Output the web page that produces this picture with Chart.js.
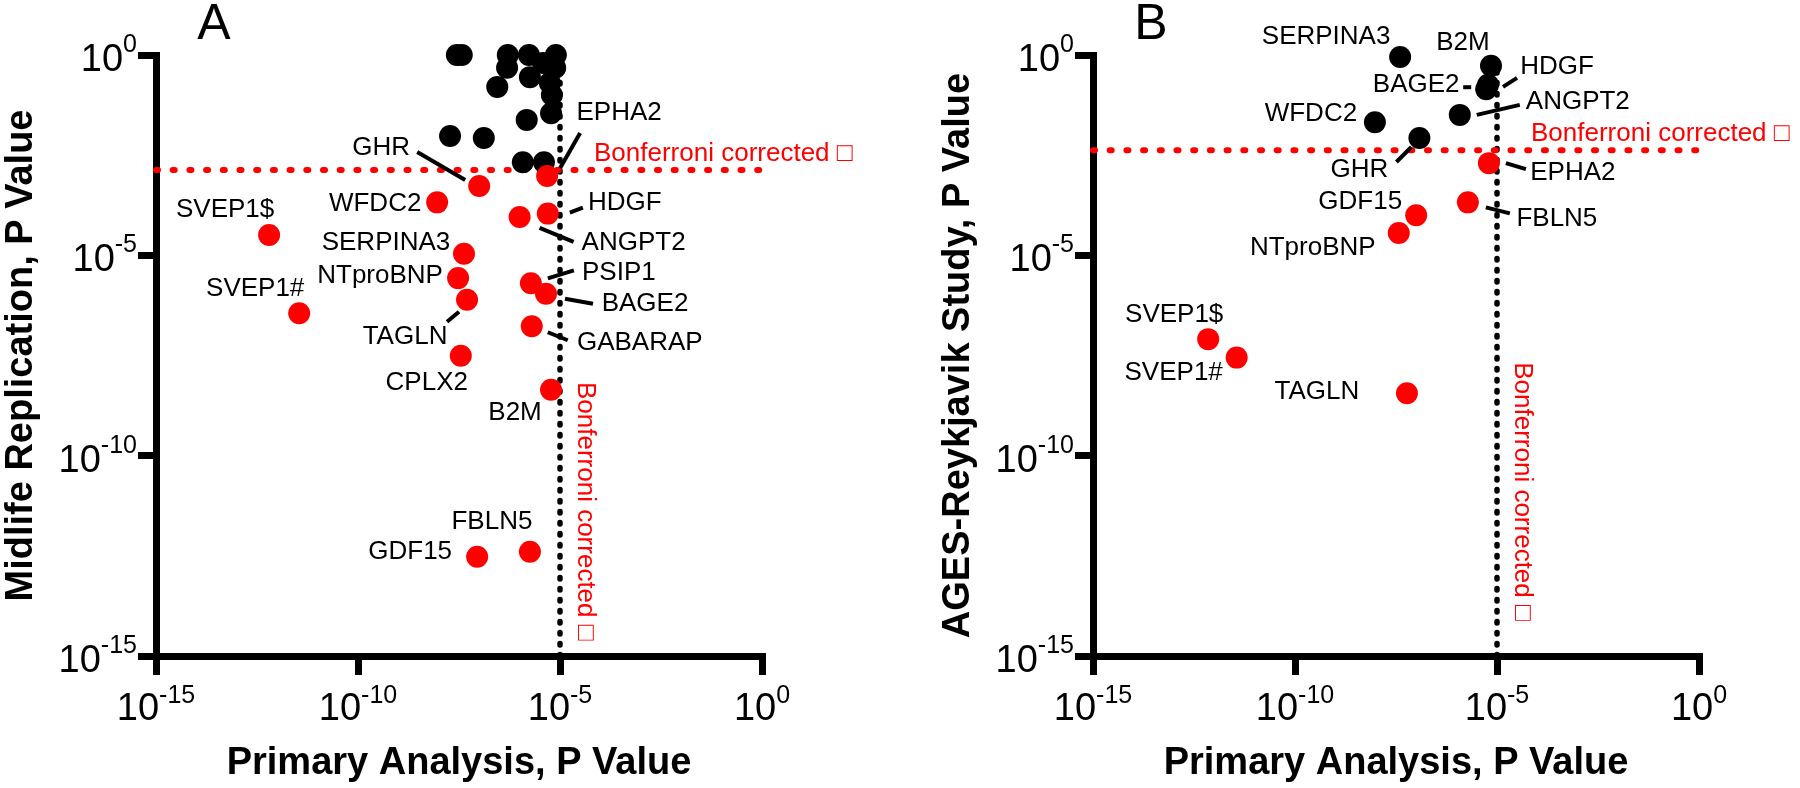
<!DOCTYPE html>
<html lang="en">
<head>
  <meta charset="UTF-8" />
  <title>Primary analysis vs replication P values</title>
  <script src="https://cdn.jsdelivr.net/npm/chart.js"></script>
  <style>
    * { box-sizing: border-box; }
    body {
      margin: 0;
      background: #ffffff;
      width: 1800px;
      height: 788px;
      position: relative;
      overflow: hidden;
    }
    .panel { position: absolute; top: 0; width: 900px; height: 788px; }
    #panelA { left: 0; }
    #panelB { left: 900px; }
  </style>
</head>
<body>
  <div class="panel" id="panelA"><canvas id="chartA" width="900" height="788"></canvas></div>
  <div class="panel" id="panelB"><canvas id="chartB" width="900" height="788"></canvas></div>

  <script>
    // ---------- data: P values ----------
    // Panel A, labelled proteins
    const genesA = ['EPHA2', 'GHR', 'WFDC2', 'HDGF', 'ANGPT2', 'SVEP1$', 'SVEP1#', 'SERPINA3', 'NTproBNP',
                    'TAGLN', 'CPLX2', 'PSIP1', 'BAGE2', 'GABARAP', 'B2M', 'GDF15', 'FBLN5'];
    const primaryA = [4.8e-6, 1.0e-7, 9.1e-9, 5.0e-6, 1.0e-6, 6.3e-13, 3.5e-12, 4.2e-8, 3.0e-8,
                      5.0e-8, 3.5e-8, 1.9e-6, 4.5e-6, 2.0e-6, 6.0e-6, 8.9e-8, 1.8e-6];
    const midlifeA = [9.5e-4, 5.4e-4, 2.1e-4, 1.1e-4, 9.1e-5, 3.2e-5, 3.6e-7, 1.1e-5, 2.7e-6,
                      7.8e-7, 3.1e-8, 2.0e-6, 1.1e-6, 1.7e-7, 4.4e-9, 3.0e-13, 4.0e-13];
    // Panel A, not replicated (unlabelled)
    const primaryAns = [2.8e-8, 3.7e-8, 5.1e-7, 1.7e-6, 7.9e-6, 4.9e-7, 1.8e-6, 2.8e-7, 7.6e-6,
                        3.8e-6, 6.3e-6, 6.0e-6, 1.5e-6, 1.9e-8, 1.3e-7, 1.2e-6, 4.0e-6, 5.6e-6];
    const midlifeAns = [1.0, 1.0, 1.0, 1.0, 1.0, 0.48, 0.28, 0.16, 0.48,
                        0.63, 0.10, 0.035, 0.024, 0.0095, 0.0085, 0.0021, 0.0021, 0.2];

    // Panel B
    const genesB = ['SERPINA3', 'B2M', 'HDGF', 'BAGE2', 'ANGPT2', 'WFDC2', 'GHR', 'EPHA2',
                    'FBLN5', 'GDF15', 'NTproBNP', 'SVEP1$', 'SVEP1#', 'TAGLN'];
    const primaryB = [4.0e-8, 7.1e-6, 6.0e-6, 5.4e-6, 1.2e-6, 9.5e-9, 1.2e-7, 6.3e-6,
                      1.9e-6, 1.0e-7, 3.7e-8, 7.1e-13, 3.6e-12, 5.9e-8];
    const agesB = [0.89, 0.54, 0.18, 0.14, 0.032, 0.021, 0.0085, 0.0020,
                   2.1e-4, 1.0e-4, 3.6e-5, 8.1e-8, 2.8e-8, 3.6e-9];

    const tickExps = [-15, -10, -5, 0];
    const bonfPrimary = 1e-5;     // vertical threshold
    const bonfA = 1.35e-3;        // horizontal threshold, panel A
    const bonfB = 4.2e-3;         // horizontal threshold, panel B

    // ---------- label placement (pixel offsets from the point) ----------
    const labelsA = {
      'EPHA2':    { dx: 72,  dy: -63, lead: [33, -43, 13, -8] },
      'GHR':      { dx: -98, dy: -38, lead: [-62, -34, -14, -6] },
      'WFDC2':    { dx: -62, dy: 1 },
      'HDGF':     { dx: 77,  dy: -11, lead: [22, -1, 35, -6] },
      'ANGPT2':   { dx: 114, dy: 26,  lead: [20, 11, 54, 25] },
      'SVEP1$':   { dx: -44, dy: -25 },
      'SVEP1#':   { dx: -44, dy: -24 },
      'SERPINA3': { dx: -78, dy: -11 },
      'NTproBNP': { dx: -78, dy: -2 },
      'TAGLN':    { dx: -62, dy: 37,  lead: [-20, 22, -8, 12] },
      'CPLX2':    { dx: -34, dy: 27 },
      'PSIP1':    { dx: 88,  dy: -11, lead: [17, -5, 43, -13] },
      'BAGE2':    { dx: 99,  dy: 10,  lead: [19, 5, 47, 10] },
      'GABARAP':  { dx: 108, dy: 17,  lead: [16, 6, 36, 14] },
      'B2M':      { dx: -36, dy: 23 },
      'GDF15':    { dx: -67, dy: -5 },
      'FBLN5':    { dx: -38, dy: -30 }
    };
    const labelsB = {
      'SERPINA3': { dx: -74, dy: -20 },
      'B2M':      { dx: -28, dy: -23 },
      'HDGF':     { dx: 69,  dy: -18, lead: [15, 2, 29, -7] },
      'BAGE2':    { dx: -70, dy: -4,  lead: [-23, -2, -15, -2] },
      'ANGPT2':   { dx: 118, dy: -13, lead: [17, 0, 60, -10] },
      'WFDC2':    { dx: -64, dy: -8 },
      'GHR':      { dx: -60, dy: 32,  lead: [-23, 24, -8, 9] },
      'EPHA2':    { dx: 84,  dy: 10,  lead: [17, 0, 37, 6] },
      'GDF15':    { dx: -56, dy: -13 },
      'FBLN5':    { dx: 89,  dy: 16,  lead: [18, 5, 42, 11] },
      'NTproBNP': { dx: -86, dy: 15 },
      'SVEP1$':   { dx: -34, dy: -24 },
      'SVEP1#':   { dx: -63, dy: 15 },
      'TAGLN':    { dx: -90, dy: -1 }
    };

    const FONT = '"Liberation Sans", Arial, Helvetica, sans-serif';
    const RED = '#ff0000';

    // split points into red (replicated) and black by the horizontal threshold
    function splitPoints(names, xs, ys, thr) {
      const red = [], black = [];
      xs.forEach((v, i) => {
        const pt = { x: v, y: ys[i], name: names ? names[i] : '' };
        (ys[i] < thr ? red : black).push(pt);
      });
      return { red, black };
    }

    function logAxis(isX, size) {
      return {
        type: 'logarithmic',
        min: 1e-15,
        max: 1,
        afterBuildTicks: s => { s.ticks = tickExps.map(e => ({ value: Math.pow(10, e) })); },
        afterFit: s => { if (isX) s.height = size; else s.width = size; },
        ticks: { display: false },
        grid: { drawOnChartArea: false, drawTicks: true, tickLength: isX ? 19 : 18, lineWidth: 7, color: '#000' },
        border: { display: true, width: 7, color: '#000' }
      };
    }

    function drawPower(ctx, exp, xPos, baseY, supY, centred) {
      const base = '38px ' + FONT, sup = '25px ' + FONT;
      ctx.font = base;
      const w10 = ctx.measureText('10').width;
      ctx.font = sup;
      const txt = String(exp);
      const wE = ctx.measureText(txt).width;
      const left = centred ? xPos - (w10 + wE) / 2 : xPos - (w10 + wE);
      ctx.textAlign = 'left';
      ctx.textBaseline = 'alphabetic';
      ctx.font = base;
      ctx.fillText('10', left, baseY);
      ctx.font = sup;
      ctx.fillText(txt, left + w10, supY);
    }

    // axis labels, titles, thresholds text and gene labels
    const annotate = {
      id: 'annotate',
      afterDraw(chart, args, opts) {
        const { ctx, chartArea } = chart;
        const xs = chart.scales.x, ys = chart.scales.y;
        ctx.save();
        ctx.fillStyle = '#000';

        // tick labels
        tickExps.forEach(e => {
          const v = Math.pow(10, e);
          drawPower(ctx, e, xs.getPixelForValue(v), chartArea.bottom + 64, chartArea.bottom + 47, true);
          const py = ys.getPixelForValue(v);
          drawPower(ctx, e, chartArea.left - 19, py + 16, py - 3, false);
        });

        // axis titles
        ctx.font = 'bold 38px ' + FONT;
        ctx.textAlign = 'center';
        ctx.textBaseline = 'alphabetic';
        ctx.fillText('Primary Analysis, P Value', (chartArea.left + chartArea.right) / 2, chartArea.bottom + 118);
        ctx.save();
        ctx.translate(chartArea.left - 134, (chartArea.top + chartArea.bottom) / 2);
        ctx.rotate(-Math.PI / 2);
        ctx.textBaseline = 'middle';
        ctx.fillText(opts.yTitle, 0, 0);
        ctx.restore();

        // panel letter
        ctx.font = '50px ' + FONT;
        ctx.textBaseline = 'middle';
        ctx.fillText(opts.letter, chartArea.left + 58, 25);

        // Bonferroni captions
        const vx = xs.getPixelForValue(bonfPrimary);
        const hy = ys.getPixelForValue(opts.bonf);
        ctx.fillStyle = RED;
        ctx.font = '26px ' + FONT;
        ctx.textAlign = 'left';
        ctx.textBaseline = 'middle';
        ctx.fillText('Bonferroni corrected \u25A1', vx + 34, hy - 16);
        ctx.save();
        ctx.translate(vx + 25, hy + 212);
        ctx.rotate(Math.PI / 2);
        ctx.fillText('Bonferroni corrected \u25A1', 0, 0);
        ctx.restore();

        // gene labels with leader lines
        ctx.fillStyle = '#000';
        ctx.strokeStyle = '#000';
        ctx.lineWidth = 4;
        ctx.font = '26px ' + FONT;
        ctx.textAlign = 'center';
        chart.data.datasets.forEach((ds, di) => {
          if (!ds.labelled) return;
          const meta = chart.getDatasetMeta(di);
          ds.data.forEach((pt, i) => {
            const lab = opts.labels[pt.name];
            if (!lab) return;
            const el = meta.data[i];
            if (lab.lead) {
              const l = lab.lead;
              ctx.beginPath();
              ctx.moveTo(el.x + l[0], el.y + l[1]);
              ctx.lineTo(el.x + l[2], el.y + l[3]);
              ctx.stroke();
            }
            ctx.fillText(pt.name, el.x + lab.dx, el.y + lab.dy);
          });
        });
        ctx.restore();
      }
    };

    function makeChart(canvasId, pts, extra, bonf, padRight, yWidth, labels, letter, yTitle) {
      const datasets = [
        {
          data: [{ x: 1e-15, y: bonf }, { x: 1, y: bonf }],
          showLine: true, pointRadius: 0, borderColor: RED, borderWidth: 6,
          borderDash: [2, 14.7], borderCapStyle: 'round', order: 3, clip: false
        },
        {
          data: [{ x: bonfPrimary, y: 1e-15 }, { x: bonfPrimary, y: 1 }],
          showLine: true, pointRadius: 0, borderColor: '#000', borderWidth: 5.5,
          borderDash: [1.5, 9.5], borderCapStyle: 'round', order: 3, clip: false
        },
        {
          data: pts.black.concat(extra), labelled: true, pointRadius: 11, pointHoverRadius: 11,
          backgroundColor: '#000', borderWidth: 0, order: 1, clip: false
        },
        {
          data: pts.red, labelled: true, pointRadius: 11, pointHoverRadius: 11,
          backgroundColor: RED, borderWidth: 0, order: 0, clip: false
        }
      ];
      return new Chart(document.getElementById(canvasId), {
        type: 'scatter',
        data: { datasets },
        options: {
          responsive: false,
          animation: false,
          devicePixelRatio: 1,
          layout: { padding: { left: 0, top: 55, right: padRight, bottom: 0 } },
          scales: { x: logAxis(true, 132), y: logAxis(false, yWidth) },
          plugins: {
            legend: { display: false },
            tooltip: { enabled: false },
            annotate: { labels, letter, yTitle, bonf }
          }
        },
        plugins: [annotate]
      });
    }

    const ptsA = splitPoints(genesA, primaryA, midlifeA, bonfA);
    const nsA = splitPoints(null, primaryAns, midlifeAns, 0).black;
    const ptsB = splitPoints(genesB, primaryB, agesB, bonfB);

    makeChart('chartA', ptsA, nsA, bonfA, 138, 156, labelsA, 'A', 'Midlife Replication, P Value');
    makeChart('chartB', ptsB, [], bonfB, 101, 193, labelsB, 'B', 'AGES-Reykjavik Study, P Value');
  </script>
</body>
</html>
